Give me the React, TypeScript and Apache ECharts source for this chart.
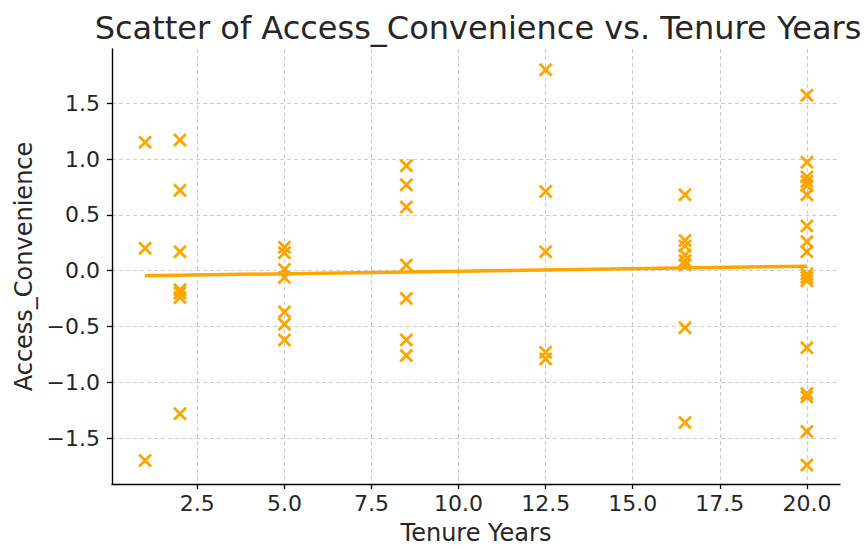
import React, { useEffect, useRef } from "react";
import * as echarts from "echarts";

const tenureYears = [
  1, 1, 1,
  2, 2, 2, 2, 2, 2, 2,
  5, 5, 5, 5, 5, 5, 5,
  8.5, 8.5, 8.5, 8.5, 8.5, 8.5, 8.5,
  12.5, 12.5, 12.5, 12.5, 12.5,
  16.5, 16.5, 16.5, 16.5, 16.5, 16.5, 16.5, 16.5,
  20, 20, 20, 20, 20, 20, 20, 20, 20, 20, 20, 20, 20, 20, 20, 20, 20, 20,
];
const accessConvenience = [
  1.15, 0.2, -1.70,
  1.17, 0.72, 0.17, -0.17, -0.20, -0.24, -1.28,
  0.21, 0.16, 0.01, -0.06, -0.37, -0.48, -0.62,
  0.94, 0.77, 0.57, 0.05, -0.25, -0.62, -0.76,
  1.80, 0.71, 0.17, -0.73, -0.79,
  0.68, 0.27, 0.22, 0.14, 0.09, 0.05, -0.51, -1.36,
  1.57, 0.97, 0.84, 0.80, 0.76, 0.68, 0.40, 0.26, 0.17, -0.03, -0.06, -0.09, -0.69, -1.10, -1.13, -1.44, -1.74,
];
const trendX = [1, 20];
const trendY = [-0.045, 0.04];
const xTicks = [2.5, 5.0, 7.5, 10.0, 12.5, 15.0, 17.5, 20.0];
const yTicks = [-1.5, -1.0, -0.5, 0.0, 0.5, 1.0, 1.5];

const ORANGE = "#FFA500";
const FONT = "DejaVu Sans";
const TEXT = "#262626";

export default function App() {
  const ref = useRef<HTMLDivElement>(null);
  useEffect(() => {
    if (!ref.current) return;
    const chart = echarts.init(ref.current, undefined, { renderer: "svg" });
    const fmt = (v: number) => v.toFixed(1).replace("-", "\u2212");
    const axisCommon = {
      axisLine: { show: true, onZero: false, lineStyle: { color: "#000", width: 1.4 } },
      axisTick: { show: true, length: 5, lineStyle: { color: "#000", width: 1.3 } },
      splitLine: { show: true, lineStyle: { color: "#cccccc", type: [4, 3], width: 1 } },
      nameTextStyle: { fontFamily: FONT, fontSize: 24, color: TEXT },
    };
    chart.setOption({
      animation: false,
      backgroundColor: "#ffffff",
      title: {
        text: "Scatter of Access_Convenience vs. Tenure Years",
        left: 473,
        textAlign: "center",
        top: 7,
        textStyle: { fontFamily: FONT, fontSize: 32, fontWeight: "normal", color: TEXT },
      },
      grid: { left: 112, right: 25, top: 49, bottom: 61, containLabel: false },
      xAxis: {
        type: "value",
        min: 0.05,
        max: 20.95,
        name: "Tenure Years",
        nameLocation: "middle",
        nameGap: 37,
        ...axisCommon,
        axisTick: { ...axisCommon.axisTick, customValues: xTicks },
        axisLabel: {
          customValues: xTicks,
          formatter: fmt,
          fontFamily: FONT,
          fontSize: 22,
          color: TEXT,
          margin: 8,
        },
      },
      yAxis: {
        type: "value",
        min: -1.91,
        max: 1.985,
        name: "Access_Convenience",
        nameLocation: "middle",
        nameGap: 67,
        ...axisCommon,
        axisTick: { ...axisCommon.axisTick, customValues: yTicks },
        axisLabel: {
          customValues: yTicks,
          formatter: fmt,
          fontFamily: FONT,
          fontSize: 22,
          color: TEXT,
          margin: 12,
        },
      },
      series: [
        {
          type: "scatter",
          data: tenureYears.map((x, i) => [x, accessConvenience[i]]),
          symbol: "path://M0,0L10,10M10,0L0,10",
          symbolSize: 12,
          itemStyle: { color: "none", borderColor: ORANGE, borderWidth: 2.8, opacity: 1 },
          z: 3,
        },
        {
          type: "line",
          data: trendX.map((x, i) => [x, trendY[i]]),
          showSymbol: false,
          symbol: "none",
          lineStyle: { color: ORANGE, width: 3.5 },
          z: 4,
        },
      ],
    });
    return () => chart.dispose();
  }, []);
  return (
    <div
      ref={ref}
      style={{ width: 865, height: 550, position: "fixed", left: 0, top: 0 }}
    />
  );
}
